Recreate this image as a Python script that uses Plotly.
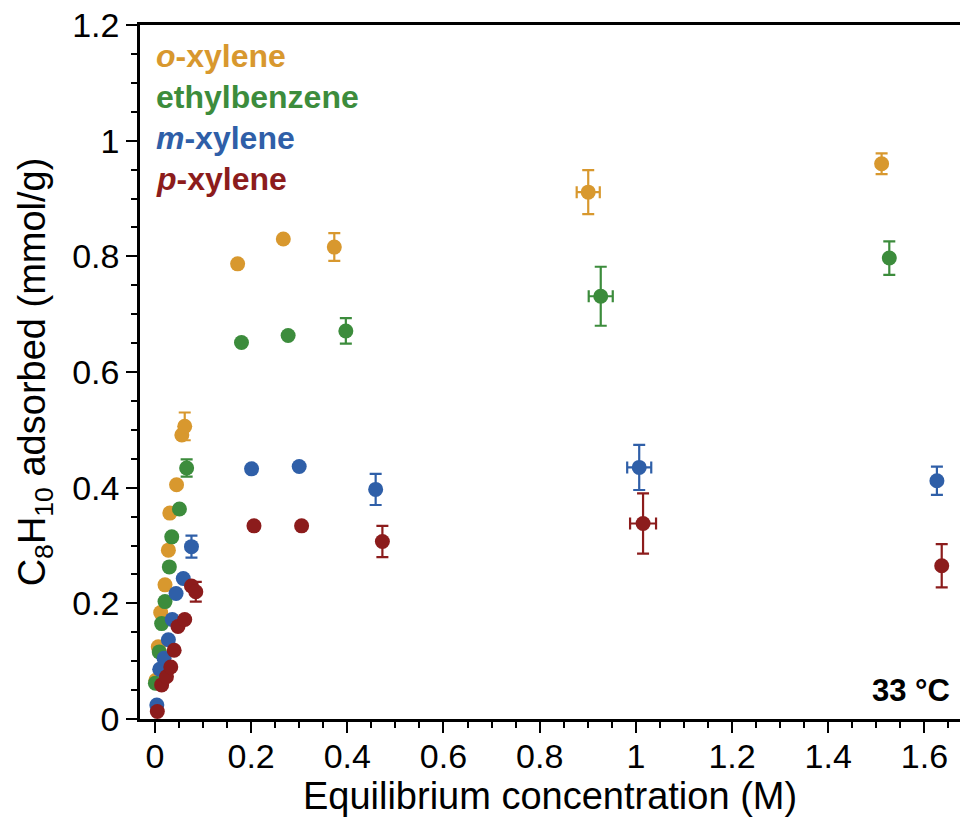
import plotly.graph_objects as go

# ---------------- data ----------------
o_x = [0.002, 0.007, 0.012, 0.021, 0.028, 0.031, 0.045, 0.056, 0.062, 0.172, 0.267, 0.373, 0.901, 1.511]
o_y = [0.067, 0.125, 0.184, 0.232, 0.292, 0.356, 0.405, 0.491, 0.506, 0.787, 0.830, 0.816, 0.911, 0.960]
o_yerr = [None, None, None, None, None, None, None, None, 0.024, None, None, 0.024, 0.038, 0.018]
o_xerr = [None, None, None, None, None, None, None, None, None, None, None, None, 0.024, None]

e_x = [0.001, 0.009, 0.014, 0.021, 0.030, 0.035, 0.051, 0.066, 0.180, 0.277, 0.397, 0.927, 1.527]
e_y = [0.062, 0.116, 0.165, 0.203, 0.263, 0.315, 0.363, 0.434, 0.651, 0.663, 0.671, 0.731, 0.797]
e_yerr = [None, None, None, None, None, None, None, 0.015, None, None, 0.022, 0.051, 0.029]
e_xerr = [None, None, None, None, None, None, None, None, None, None, None, 0.025, None]

m_x = [0.004, 0.010, 0.019, 0.028, 0.036, 0.044, 0.059, 0.076, 0.201, 0.300, 0.459, 1.007, 1.626]
m_y = [0.024, 0.086, 0.105, 0.137, 0.172, 0.217, 0.243, 0.298, 0.4325, 0.4365, 0.397, 0.435, 0.412]
m_yerr = [None, None, None, None, None, None, None, 0.019, None, None, 0.027, 0.039, 0.0245]
m_xerr = [None, None, None, None, None, None, None, None, None, None, None, 0.025, None]

p_x = [0.005, 0.014, 0.024, 0.033, 0.040, 0.048, 0.062, 0.076, 0.085, 0.206, 0.305, 0.473, 1.015, 1.636]
p_y = [0.013, 0.059, 0.073, 0.090, 0.119, 0.160, 0.172, 0.230, 0.220, 0.334, 0.334, 0.307, 0.338, 0.265]
p_yerr = [None, None, None, None, None, None, None, None, 0.017, None, None, 0.027, 0.052, 0.0375]
p_xerr = [None, None, None, None, None, None, None, None, None, None, None, None, 0.027, None]

x_tickvals = [0, 0.2, 0.4, 0.6, 0.8, 1.0, 1.2, 1.4, 1.6]
x_ticktext = ["0", "0.2", "0.4", "0.6", "0.8", "1", "1.2", "1.4", "1.6"]
y_tickvals = [0, 0.2, 0.4, 0.6, 0.8, 1.0, 1.2]
y_ticktext = ["0", "0.2", "0.4", "0.6", "0.8", "1", "1.2"]

series_names = ["<i>o</i>-xylene", "ethylbenzene", "<i>m</i>-xylene", "<i>p</i>-xylene"]
colors = ["#D8982E", "#3C8C3C", "#2F5FA8", "#8C1C1C"]

FONT = "Liberation Sans, Arial, Helvetica, sans-serif"

fig = go.Figure()
data = [
    (o_x, o_y, o_yerr, o_xerr),
    (e_x, e_y, e_yerr, e_xerr),
    (m_x, m_y, m_yerr, m_xerr),
    (p_x, p_y, p_yerr, p_xerr),
]
for (xs, ys, ye, xe), name, col in zip(data, series_names, colors):
    fig.add_trace(go.Scatter(
        x=xs, y=ys, mode="markers", name=name,
        marker=dict(size=15, color=col, line=dict(width=0)),
        error_y=dict(type="data", array=ye, visible=True, color=col, thickness=2.2, width=6),
        error_x=dict(type="data", array=xe, visible=True, color=col, thickness=2.2, width=6),
        showlegend=False,
    ))

# legend-like coloured labels
for i, (name, col) in enumerate(zip(series_names, colors)):
    fig.add_annotation(
        x=0, xref="paper", xanchor="left", xshift=14,
        y=1, yref="paper", yanchor="middle", yshift=-31 - 41 * i,
        text="<b>" + name + "</b>", showarrow=False,
        font=dict(family=FONT, size=32, color=col),
    )

fig.add_annotation(
    x=1, xref="paper", xanchor="right", xshift=-8,
    y=0, yref="paper", yanchor="middle", yshift=29,
    text="<b>33 °C</b>", showarrow=False,
    font=dict(family=FONT, size=31, color="black"),
)

fig.update_layout(
    width=960, height=827,
    margin=dict(l=140, r=0, t=25, b=108),
    plot_bgcolor="white", paper_bgcolor="white",
    font=dict(family=FONT, size=34, color="black"),
    xaxis=dict(
        range=[-0.031, 1.674],
        tickvals=x_tickvals, ticktext=x_ticktext,
        ticks="outside", ticklen=11, tickwidth=2.2, tickcolor="black",
        minor=dict(dtick=0.05, tick0=0, ticks="outside", ticklen=6, tickwidth=2.2, tickcolor="black"),
        showline=True, linewidth=2.5, linecolor="black", mirror=True,
        showgrid=False, zeroline=False,
        tickfont=dict(size=34),
        ticklabelstandoff=-6,
        title=dict(text="Equilibrium concentration (M)", font=dict(size=38), standoff=0),
    ),
    yaxis=dict(
        range=[0, 1.2],
        tickvals=y_tickvals, ticktext=y_ticktext,
        ticks="outside", ticklen=11, tickwidth=2.2, tickcolor="black",
        minor=dict(dtick=0.05, tick0=0, ticks="outside", ticklen=6, tickwidth=2.2, tickcolor="black"),
        showline=True, linewidth=2.5, linecolor="black",
        showgrid=False, zeroline=False,
        tickfont=dict(size=34),
        title=dict(text="C<sub>8</sub>H<sub>10</sub> adsorbed (mmol/g)", font=dict(size=38), standoff=15),
    ),
)

fig.write_html(
    "out.html",
    config={"displayModeBar": False},
    post_script="document.body.style.margin='0';document.body.style.overflow='hidden';",
)
